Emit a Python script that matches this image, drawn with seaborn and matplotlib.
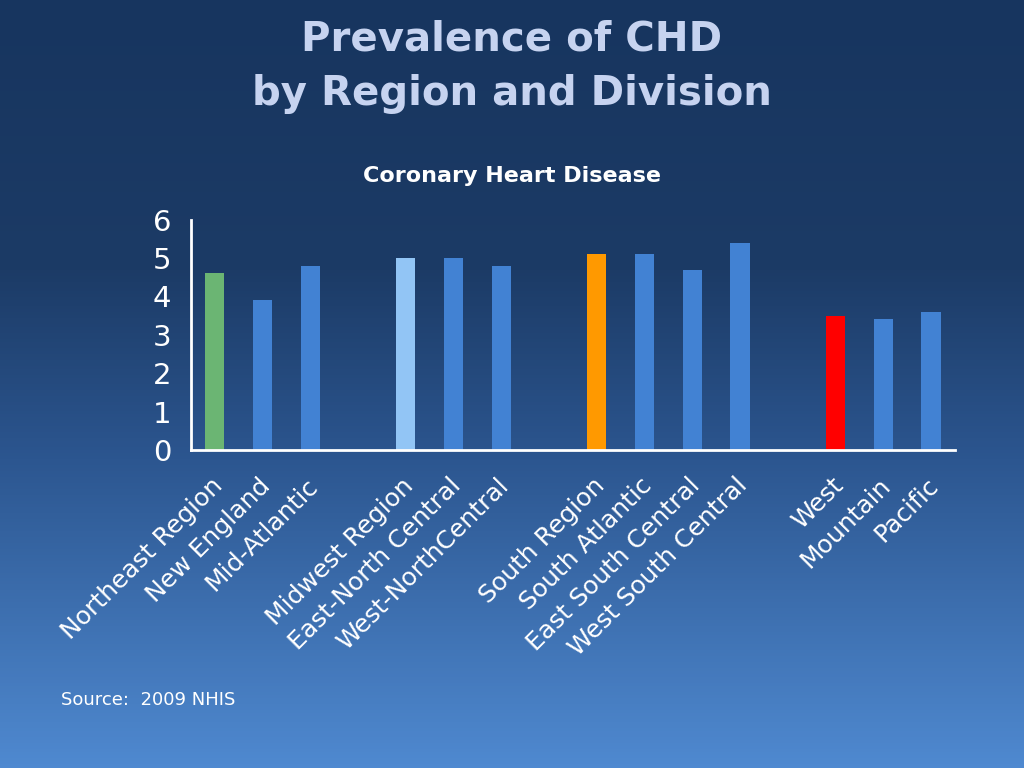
import numpy as np
import pandas as pd
import seaborn as sns
import matplotlib.pyplot as plt
from matplotlib.colors import LinearSegmentedColormap
from matplotlib.transforms import ScaledTranslation

# Data
regions = ["Northeast Region", "New England", "Mid-Atlantic",
           "Midwest Region", "East-North Central", "West-NorthCentral",
           "South Region", "South Atlantic", "East South Central", "West South Central",
           "West", "Mountain", "Pacific"]
prevalence = [4.6, 3.9, 4.8,
              5.0, 5.0, 4.8,
              5.1, 5.1, 4.7, 5.4,
              3.5, 3.4, 3.6]
bar_colors = ["#6bb573", "#4282d3", "#4282d3",
              "#92c5f5", "#4282d3", "#4282d3",
              "#ff9900", "#4282d3", "#4282d3", "#4282d3",
              "#ff0000", "#4282d3", "#4282d3"]

# empty slots between the regions
order = regions[:3] + [" "] + regions[3:6] + ["  "] + regions[6:10] + ["   "] + regions[10:]

df = pd.DataFrame({"region": regions, "prevalence": prevalence})
palette = dict(zip(regions, bar_colors))

sns.set_style("white")
plt.rcParams['font.family'] = ['DejaVu Sans']

fig = plt.figure(figsize=(10.24, 7.68), dpi=100)

# gradient background
bg = fig.add_axes([0, 0, 1, 1], zorder=0)
cmap = LinearSegmentedColormap.from_list(
    "bg", [(0, "#17355f"), (0.35, "#1c3b66"), (0.6, "#2c5690"), (1, "#4f89d0")])
grad = np.linspace(0, 1, 256).reshape(-1, 1)
bg.imshow(grad, aspect="auto", cmap=cmap, extent=[0, 1, 1, 0])
bg.axis("off")

ax = fig.add_axes([0.1865, 0.414, 0.746, 0.30], zorder=1)
ax.set_facecolor("none")
sns.barplot(data=df, x="region", y="prevalence", hue="region", order=order,
            palette=palette, width=0.4, legend=False, ax=ax, saturation=1,
            edgecolor="none", linewidth=0)

ax.set_xlim(-0.5, 15.5)
ax.set_ylim(0, 6)
ax.set_yticks(range(7))
ax.set_xlabel("")
ax.set_ylabel("")
for s in ["top", "right"]:
    ax.spines[s].set_visible(False)
for s in ["left", "bottom"]:
    ax.spines[s].set_color("white")
    ax.spines[s].set_linewidth(2)
ax.tick_params(axis="y", direction="in", length=9, width=1.5, colors="white",
               labelsize=21, pad=14)
ax.tick_params(axis="x", length=0, colors="white", labelsize=18, pad=23)
shift = ScaledTranslation(4 / 100, 0, fig.dpi_scale_trans)
for lab in ax.get_xticklabels():
    lab.set_rotation(45)
    lab.set_ha("right")
    lab.set_va("center")
    lab.set_rotation_mode("anchor")
    lab.set_transform(lab.get_transform() + shift)

fig.text(0.5, 0.948, "Prevalence of CHD", ha="center", va="center",
         fontsize=29, fontweight="bold", color="#c6d3f0")
fig.text(0.5, 0.877, "by Region and Division", ha="center", va="center",
         fontsize=29, fontweight="bold", color="#c6d3f0")
fig.text(0.5, 0.771, "Coronary Heart Disease", ha="center", va="center",
         fontsize=16, fontweight="bold", color="white")
fig.text(0.06, 0.088, "Source:  2009 NHIS", ha="left", va="center",
         fontsize=13, color="white")

fig.savefig("out.png", dpi=100)
